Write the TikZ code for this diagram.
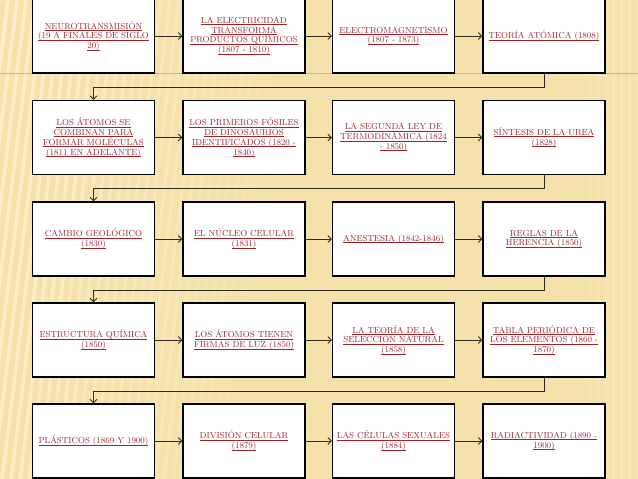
\documentclass[tikz,border=0pt]{standalone}
\usepackage{fontspec}
\usetikzlibrary{arrows.meta}
\definecolor{bgbase}{RGB}{245,225,170}
\definecolor{stripe}{RGB}{252,241,208}
\definecolor{txtred}{RGB}{158,36,42}
\definecolor{conn}{RGB}{45,42,32}
\definecolor{gold}{RGB}{232,180,80}
\newcommand\uln[1]{\leavevmode\setbox0\hbox{#1}\rlap{\color{txtred}\rule[-1.5pt]{\wd0}{0.5pt}}\box0}
\tikzset{
 box/.style={draw=black, line width=1.3pt, fill=white, minimum width=122pt, minimum height=74pt,
   inner sep=1pt, align=center, text=txtred,
   font=\fontsize{8.7}{9.8}\selectfont\addfontfeatures{FakeBold=0.5}},
 link/.style={draw=conn, line width=0.8pt, -{Straight Barb[length=3.5pt,width=7pt]}},
}
\begin{document}
\begin{tikzpicture}[x=1pt,y=-1pt]
\useasboundingbox (0,0) rectangle (638,479);
\fill[bgbase] (0,0) rectangle (638,479);
\begin{scope}
\clip (0,0) rectangle (638,479);
\foreach \i in {0,...,35} {
  \pgfmathsetmacro\op{max(0,0.95-\i*0.025)}
  \draw[stripe, opacity=\op, line width=3.5pt] (\i*9-70,479) -- (\i*9-10,0);
}
\foreach \i in {0,...,10}{
  \pgfmathsetmacro\op{0.15+\i*0.04}
  \draw[stripe, opacity=\op, line width=2.5pt] (558+\i*8,0) -- (558+\i*8,479);
}
\end{scope}
\draw[gold, line width=0.6pt] (0,73.5) -- (638,73.5);

% row 1
\node[box] (a1) at (93.5,36) {\uln{NEUROTRANSMISIÓN}\\\uln{(19 A FINALES DE SIGLO}\\\uln{20)}};
\node[box] (b1) at (244,36) {\uln{LA ELECTRICIDAD}\\\uln{TRANSFORMA}\\\uln{PRODUCTOS QUÍMICOS}\\\uln{(1807 - 1810)}};
\node[box] (c1) at (393.5,36) {\uln{ELECTROMAGNETISMO}\\\uln{(1807 - 1873)}};
\node[box] (d1) at (544,36) {\uln{TEORÍA ATÓMICA (1808)}};
% row 2
\node[box] (a2) at (93.5,137.5) {\uln{LOS ÁTOMOS SE}\\\uln{COMBINAN PARA}\\\uln{FORMAR MOLÉCULAS}\\\uln{(1811 EN ADELANTE)}};
\node[box] (b2) at (244,137.5) {\uln{LOS PRIMEROS FÓSILES}\\\uln{DE DINOSAURIOS}\\\uln{IDENTIFICADOS (1820 -}\\\uln{1840)}};
\node[box] (c2) at (393.5,137.5) {\uln{LA SEGUNDA LEY DE}\\\uln{TERMODINÁMICA (1824}\\\uln{- 1850)}};
\node[box] (d2) at (544,137.5) {\uln{SÍNTESIS DE LA UREA}\\\uln{(1828)}};
% row 3
\node[box] (a3) at (93.5,239) {\uln{CAMBIO GEOLÓGICO}\\\uln{(1830)}};
\node[box] (b3) at (244,239) {\uln{EL NÚCLEO CELULAR}\\\uln{(1831)}};
\node[box] (c3) at (393.5,239) {\uln{ANESTESIA (1842-1846)}};
\node[box] (d3) at (544,239) {\uln{REGLAS DE LA}\\\uln{HERENCIA (1850)}};
% row 4
\node[box] (a4) at (93.5,340) {\uln{ESTRUCTURA QUÍMICA}\\\uln{(1850)}};
\node[box] (b4) at (244,340) {\uln{LOS ÁTOMOS TIENEN}\\\uln{FIRMAS DE LUZ (1850)}};
\node[box] (c4) at (393.5,340) {\uln{LA TEORÍA DE LA}\\\uln{SELECCIÓN NATURAL}\\\uln{(1858)}};
\node[box] (d4) at (544,340) {\uln{TABLA PERIÓDICA DE}\\\uln{LOS ELEMENTOS (1860 -}\\\uln{1870)}};
% row 5
\node[box] (a5) at (93.5,441) {\uln{PLÁSTICOS (1869 Y 1900)}};
\node[box] (b5) at (244,441) {\uln{DIVISIÓN CELULAR}\\\uln{(1879)}};
\node[box] (c5) at (393.5,441) {\uln{LAS CÉLULAS SEXUALES}\\\uln{(1884)}};
\node[box] (d5) at (544,441) {\uln{RADIACTIVIDAD (1890 -}\\\uln{1900)}};

% horizontal connectors
\foreach \r in {1,...,5} {
  \draw[link] (a\r) -- (b\r);
  \draw[link] (b\r) -- (c\r);
  \draw[link] (c\r) -- (d\r);
}
% return connectors
\foreach \r/\n in {1/2,2/3,3/4,4/5} {
  \draw[link] (d\r.south) -- ++(0,13.6) -| (a\n.north);
}
\end{tikzpicture}
\end{document}
